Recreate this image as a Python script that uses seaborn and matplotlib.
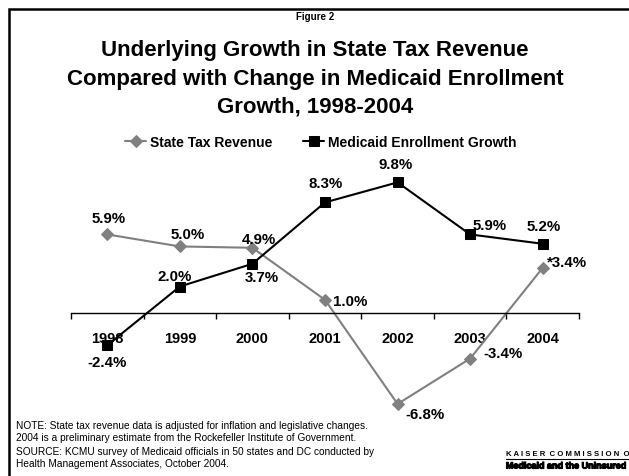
import matplotlib
matplotlib.use("Agg")
import pandas as pd
import matplotlib.pyplot as plt
import matplotlib.patheffects as pe
from matplotlib.patches import Rectangle
import seaborn as sns

years = ["1998", "1999", "2000", "2001", "2002", "2003", "2004"]
tax_revenue = [5.9, 5.0, 4.9, 1.0, -6.8, -3.4, 3.4]
medicaid_growth = [-2.4, 2.0, 3.7, 8.3, 9.8, 5.9, 5.2]
tax_labels = ["5.9%", "5.0%", "4.9%", "1.0%", "-6.8%", "-3.4%", "*3.4%"]
medicaid_labels = ["-2.4%", "2.0%", "3.7%", "8.3%", "9.8%", "5.9%", "5.2%"]

df = pd.DataFrame({"pos": range(len(years)), "Year": years,
                   "tax": tax_revenue, "medicaid": medicaid_growth})

sns.set_style("white")
plt.rcParams["font.family"] = ["Liberation Sans", "DejaVu Sans"]
plt.rcParams["text.color"] = "black"
plt.rcParams["xtick.color"] = "black"
plt.rcParams["axes.labelcolor"] = "black"

W, H = 629, 477
fig = plt.figure(figsize=(W / 100, H / 100), dpi=100)
# plot area in pixels: x 71..579, y 154..421
ax = fig.add_axes([71 / W, 1 - 421 / H, (579 - 71) / W, (421 - 154) / H])

sns.lineplot(data=df, x="pos", y="tax", ax=ax, color="#808080", marker="D",
             markersize=6, markeredgecolor="#808080", linewidth=1.5,
             label="State Tax Revenue")
sns.lineplot(data=df, x="pos", y="medicaid", ax=ax, color="black", marker="s",
             markersize=7, markeredgecolor="black", linewidth=1.5,
             label="Medicaid Enrollment Growth")

ax.set_xlim(-0.5, 6.5)
ax.set_ylim(-8, 12)
ax.set_xlabel("")
ax.set_ylabel("")
ax.set_yticks([])
for s in ["left", "top", "right"]:
    ax.spines[s].set_visible(False)
ax.spines["bottom"].set_position(("data", 0))
ax.spines["bottom"].set_color("black")
ax.spines["bottom"].set_linewidth(1.0)
ax.set_xticks(df["pos"])
ax.set_xticklabels(years, fontsize=10.5, fontweight="bold")
ax.set_xticks([i - 0.5 for i in range(len(years) + 1)], minor=True)
ax.tick_params(axis="x", which="major", length=0, pad=13)
ax.tick_params(axis="x", which="minor", length=4, width=1, direction="out",
               color="black", bottom=True)

# data labels (offsets in pixels: dx, dy, ha)
tax_off = [(1, 16, "center"), (8, 12, "center"), (6, 9, "center"),
           (8, -1, "left"), (8, -10, "left"), (13, 6, "left"), (4, 6, "left")]
med_off = [(0, -17, "center"), (-5, 10, "center"), (9, -13, "center"),
           (1, 19, "center"), (-2, 18, "center"), (2, 9, "left"), (1, 18, "center")]
for i in range(len(years)):
    dx, dy, ha = tax_off[i]
    ax.annotate(tax_labels[i], (i, tax_revenue[i]), xytext=(dx, dy),
                textcoords="offset pixels", ha=ha, va="center",
                fontsize=10.8, fontweight="bold")
    dx, dy, ha = med_off[i]
    ax.annotate(medicaid_labels[i], (i, medicaid_growth[i]), xytext=(dx, dy),
                textcoords="offset pixels", ha=ha, va="center",
                fontsize=10.8, fontweight="bold")

ax.legend(loc="center", bbox_to_anchor=(321 / W, 1 - 143 / H),
          bbox_transform=fig.transFigure, ncol=2, frameon=False,
          prop={"size": 10, "weight": "bold"}, handlelength=1.5,
          handletextpad=0.3, columnspacing=2.2)

# frame around slide
fig.add_artist(Rectangle((9 / W, -0.2), 1.2, 1.2 - 10 / H, transform=fig.transFigure,
                         fill=False, edgecolor="black", linewidth=1.8, clip_on=False))

fig.text(315 / W, 1 - 17 / H, "Figure 2", ha="center", va="center",
         fontsize=7, fontweight="bold")
fig.text(315 / W, 1 - 79 / H,
         "Underlying Growth in State Tax Revenue\n"
         "Compared with Change in Medicaid Enrollment\n"
         "Growth, 1998-2004",
         ha="center", va="center", fontsize=16, fontweight="bold", linespacing=1.45)

fig.text(16 / W, 1 - 432 / H,
         "NOTE: State tax revenue data is adjusted for inflation and legislative changes.\n"
         "2004 is a preliminary estimate from the Rockefeller Institute of Government.",
         ha="left", va="center", fontsize=7.3, linespacing=1.2)
fig.text(16 / W, 1 - 458 / H,
         "SOURCE: KCMU survey of Medicaid officials in 50 states and DC conducted by\n"
         "Health Management Associates, October 2004.",
         ha="left", va="center", fontsize=7.3, linespacing=1.2)

fig.text(506 / W, 1 - 455 / H, "K A I S E R  C O M M I S S I O N  O N",
         ha="left", va="center", fontsize=5.6, fontweight="bold")
fig.add_artist(plt.Line2D([506 / W, 1.0], [1 - 460 / H, 1 - 460 / H],
                          color="black", linewidth=0.8, transform=fig.transFigure))
fig.text(566 / W, 1 - 467 / H, "Medicaid and the Uninsured", ha="center",
         va="center", fontsize=6.5, fontweight="bold",
         path_effects=[pe.withStroke(linewidth=0.8, foreground="black")])

fig.savefig("out.png", dpi=100)
